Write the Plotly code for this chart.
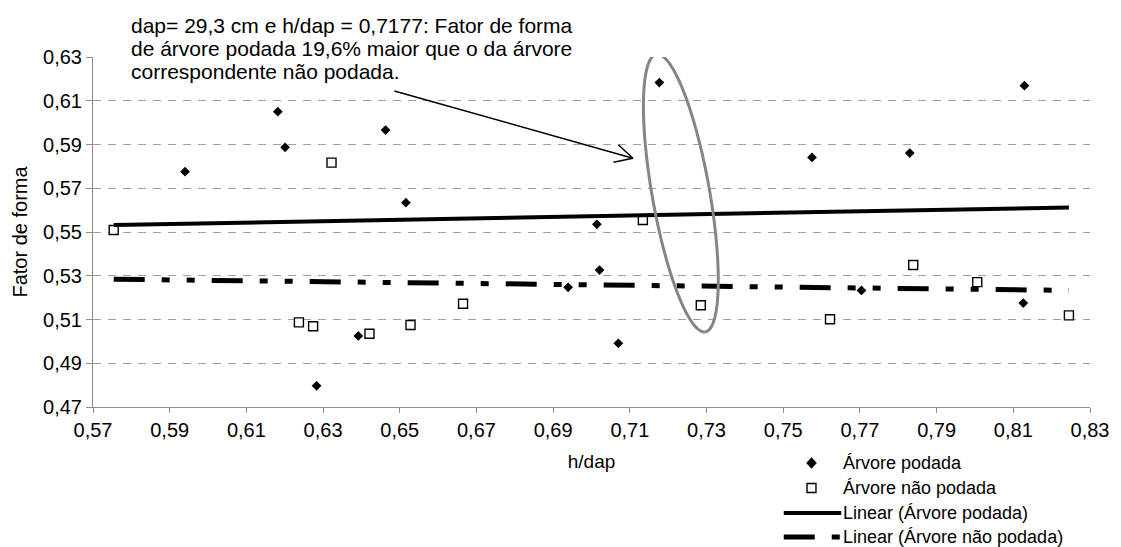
import numpy as np
import plotly.graph_objects as go

# Pruned trees: h/dap vs form factor
podada_x = [0.5940, 0.6182, 0.6201, 0.6283, 0.6392, 0.6463, 0.6516, 0.6939,
            0.7014, 0.7021, 0.7070, 0.7177, 0.7575, 0.7704, 0.7830, 0.8126, 0.8129]
podada_y = [0.5776, 0.6050, 0.5887, 0.4797, 0.5025, 0.5966, 0.5634, 0.5247,
            0.5535, 0.5326, 0.4991, 0.6183, 0.5841, 0.5233, 0.5861, 0.5175, 0.6169]

# Unpruned trees
nao_podada_x = [0.5754, 0.6237, 0.6274, 0.6322, 0.6421, 0.6528, 0.6665,
                0.7134, 0.7285, 0.7622, 0.7839, 0.8006, 0.8245]
nao_podada_y = [0.5509, 0.5087, 0.5069, 0.5817, 0.5035, 0.5075, 0.5172,
                0.5555, 0.5165, 0.5101, 0.5349, 0.5271, 0.5119]

# Linear trend lines (end points)
trend_x = [0.5754, 0.8245]
trend_podada_y = [0.5532, 0.5612]
trend_nao_podada_y = [0.5284, 0.5233]

x_tick_vals = [0.57, 0.59, 0.61, 0.63, 0.65, 0.67, 0.69, 0.71, 0.73, 0.75, 0.77, 0.79, 0.81, 0.83]
y_tick_vals = [0.47, 0.49, 0.51, 0.53, 0.55, 0.57, 0.59, 0.61, 0.63]

legend_labels = ["Árvore podada", "Árvore não podada",
                 "Linear (Árvore podada)", "Linear (Árvore não podada)"]

W, H = 1121, 547
M_L, M_R, M_T, M_B = 93, 22, 57, 140
X_RANGE = [0.57, 0.83]
Y_RANGE = [0.47, 0.63]
PW, PH = W - M_L - M_R, H - M_T - M_B
SX = PW / (X_RANGE[1] - X_RANGE[0])   # px per x unit
SY = PH / (Y_RANGE[1] - Y_RANGE[0])   # px per y unit

FONT = "Liberation Sans, Arial, sans-serif"
TREND_DASH = "31px,17px,8px,17px,8px,17px"


def px_to_paper(px, py):
    return (px - M_L) / PW, 1 - (py - M_T) / PH


fig = go.Figure()
fig.add_trace(go.Scatter(
    x=podada_x, y=podada_y, mode="markers", name=legend_labels[0],
    marker=dict(symbol="diamond", size=7.5, color="black", line=dict(width=0)),
))
fig.add_trace(go.Scatter(
    x=nao_podada_x, y=nao_podada_y, mode="markers", name=legend_labels[1],
    marker=dict(symbol="square", size=9, color="white", line=dict(color="black", width=1.4)),
))
fig.add_trace(go.Scatter(
    x=trend_x, y=trend_podada_y, mode="lines", name=legend_labels[2],
    line=dict(color="black", width=4),
))
fig.add_trace(go.Scatter(
    x=trend_x, y=trend_nao_podada_y, mode="lines", name=legend_labels[3],
    line=dict(color="black", width=5, dash=TREND_DASH),
))

# Highlight ellipse around the pruned tree at h/dap = 0.7177 (built in pixel space)
ell_cx, ell_cy = 0.7233, 0.5678
ell_a, ell_b, ell_tilt = 141, 29, np.radians(10.1)
t = np.linspace(0, 2 * np.pi, 121)
ux, uy = -np.sin(ell_tilt), -np.cos(ell_tilt)   # major axis (screen coords, y down)
vx, vy = np.cos(ell_tilt), -np.sin(ell_tilt)
dx = ell_a * np.cos(t) * ux + ell_b * np.sin(t) * vx
dy = ell_a * np.cos(t) * uy + ell_b * np.sin(t) * vy
ex = ell_cx + dx / SX
ey = ell_cy - dy / SY
path = "M" + " L".join(f"{a:.6f},{b:.6f}" for a, b in zip(ex, ey)) + " Z"
fig.add_shape(type="path", path=path, xref="x", yref="y",
              line=dict(color="#858585", width=3))

# Arrow pointing to the highlighted point (open V head)
arr_start = (0.6486, 0.6145)
arr_tip = (0.7108, 0.5837)
fig.add_shape(type="line", xref="x", yref="y",
              x0=arr_start[0], y0=arr_start[1], x1=arr_tip[0], y1=arr_tip[1],
              line=dict(color="black", width=1.5))
ang = np.arctan2(-(arr_start[1] - arr_tip[1]) * SY, (arr_start[0] - arr_tip[0]) * SX)
for da in (np.radians(27), -np.radians(27)):
    hx = arr_tip[0] + 20 * np.cos(ang + da) / SX
    hy = arr_tip[1] - 20 * np.sin(ang + da) / SY
    fig.add_shape(type="line", xref="x", yref="y",
                  x0=arr_tip[0], y0=arr_tip[1], x1=hx, y1=hy,
                  line=dict(color="black", width=1.5))

note_lines = [
    "dap= 29,3 cm e h/dap = 0,7177: Fator de forma",
    "de árvore podada 19,6% maior que o da árvore",
    "correspondente não podada.",
]
for i, line in enumerate(note_lines):
    ax_, ay_ = px_to_paper(129, 25 + 23.5 * i)
    fig.add_annotation(
        text=line, xref="paper", yref="paper", x=ax_, y=ay_,
        xanchor="left", yanchor="middle", showarrow=False, align="left",
        font=dict(family=FONT, size=21, color="black"),
    )

# Legend below the plot, at the right
LEG_SYM_X, LEG_TXT_X = 818, 848
LEG_LINE_X0, LEG_LINE_X1 = 790, 848
leg_rows = [463, 488, 513, 537]

# diamond marker
cx, cy = LEG_SYM_X, leg_rows[0]
pts = [(cx, cy - 5.5), (cx + 5, cy), (cx, cy + 5.5), (cx - 5, cy)]
pp = [px_to_paper(*p) for p in pts]
fig.add_shape(type="path", xref="paper", yref="paper",
              path="M" + " L".join(f"{a:.5f},{b:.5f}" for a, b in pp) + " Z",
              fillcolor="black", line=dict(color="black", width=0.5))
# square marker
x0, y0 = px_to_paper(LEG_SYM_X - 4.5, leg_rows[1] - 4.5)
x1, y1 = px_to_paper(LEG_SYM_X + 4.5, leg_rows[1] + 4.5)
fig.add_shape(type="rect", xref="paper", yref="paper", x0=x0, y0=y0, x1=x1, y1=y1,
              fillcolor="white", line=dict(color="black", width=1.4))
# trend line samples
for row, width, dash in [(leg_rows[2], 4, "solid"), (leg_rows[3], 5, TREND_DASH)]:
    x0, y0 = px_to_paper(LEG_LINE_X0, row)
    x1, y1 = px_to_paper(LEG_LINE_X1, row)
    fig.add_shape(type="line", xref="paper", yref="paper", x0=x0, y0=y0, x1=x1, y1=y1,
                  line=dict(color="black", width=width, dash=dash))
for label, row in zip(legend_labels, leg_rows):
    tx, ty = px_to_paper(LEG_TXT_X, row)
    fig.add_annotation(
        text=label, xref="paper", yref="paper", x=tx, y=ty,
        xanchor="left", yanchor="middle", showarrow=False,
        font=dict(family=FONT, size=18, color="black"),
    )

fig.update_layout(
    width=W, height=H,
    margin=dict(l=M_L, r=M_R, t=M_T, b=M_B),
    paper_bgcolor="white", plot_bgcolor="white",
    separators=",.",
    font=dict(family=FONT, size=20, color="black"),
    showlegend=False,
    xaxis=dict(
        range=X_RANGE, tickvals=x_tick_vals, tickformat=".2f",
        showgrid=False, zeroline=False,
        showline=True, linecolor="#8c8c8c", linewidth=1,
        ticks="outside", ticklen=5, tickcolor="#8c8c8c",
        tickfont=dict(size=20),
        title=dict(text="h/dap", font=dict(size=19), standoff=14),
    ),
    yaxis=dict(
        range=Y_RANGE, tickvals=y_tick_vals, tickformat=".2f",
        showgrid=True, gridcolor="#a0a0a0", gridwidth=1, griddash="8px,7px",
        zeroline=False,
        showline=True, linecolor="#8c8c8c", linewidth=1,
        ticks="outside", ticklen=6, tickcolor="#8c8c8c",
        tickfont=dict(size=20),
        title=dict(text="Fator de forma", font=dict(size=20), standoff=10),
    ),
)

fig.write_html("out.html")
